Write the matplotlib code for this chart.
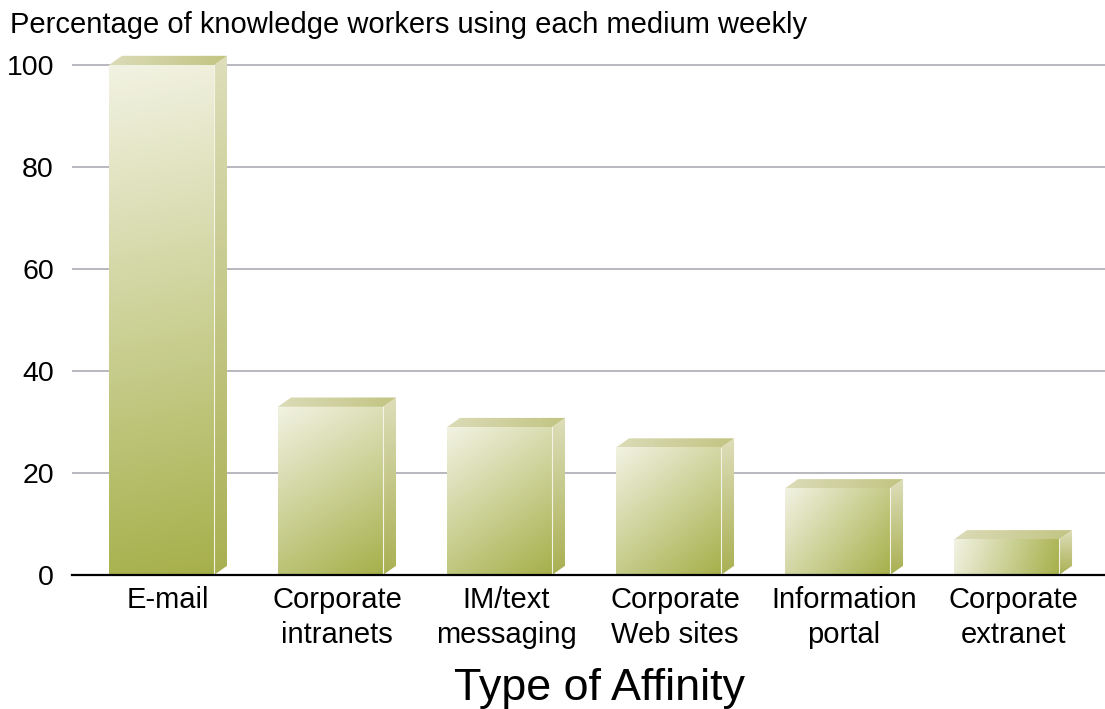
import matplotlib
matplotlib.use("Agg")
import matplotlib.pyplot as plt
import numpy as np
from matplotlib.patches import Polygon

plt.rcParams["font.family"] = ["Liberation Sans", "DejaVu Sans"]

# ── Datos ────────────────────────────────────────────────────────────────────
categories = [
    "E-mail",
    "Corporate\nintranets",
    "IM/text\nmessaging",
    "Corporate\nWeb sites",
    "Information\nportal",
    "Corporate\nextranet",
]
values = [100, 33, 29, 25, 17, 7]
y_ticks = [0, 20, 40, 60, 80, 100]

title = "Percentage of knowledge workers using each medium weekly"
x_label = "Type of Affinity"

# ── Estilo ───────────────────────────────────────────────────────────────────
FRONT_LIGHT = np.array([0.95, 0.95, 0.89])
FRONT_DARK = np.array([0.65, 0.69, 0.29])
SIDE_LIGHT = np.array([0.87, 0.87, 0.73])
SIDE_DARK = np.array([0.66, 0.69, 0.32])
TOP_LEFT = np.array([0.86, 0.86, 0.72])
TOP_RIGHT = np.array([0.76, 0.77, 0.51])

BAR_W = 0.621   # ancho cara frontal (unidades de categoría)
DEPTH_X = 0.077
DEPTH_Y = 1.8
PX_X = 169.0    # píxeles por categoría
PX_Y = 5.1      # píxeles por unidad de valor


def _gradient(c0, c1, t):
    t = np.clip(t, 0, 1)[..., None]
    return c0 * (1 - t) + c1 * t


def _draw_bar(ax, xc, h):
    xl = xc - (BAR_W + DEPTH_X) / 2
    xr = xl + BAR_W
    n = 200
    u, v = np.meshgrid(np.linspace(0, 1, n), np.linspace(0, 1, n))

    # cara frontal: degradado a lo largo de la diagonal (en píxeles)
    w_px = BAR_W * PX_X
    h_px = h * PX_Y
    t = (u * w_px ** 2 + v * h_px ** 2) / (w_px ** 2 + h_px ** 2)
    front = _gradient(FRONT_LIGHT, FRONT_DARK, t)
    ax.imshow(front, extent=(xl, xr, 0, h), origin="upper",
              aspect="auto", interpolation="bilinear", zorder=3)

    # cara lateral
    side = _gradient(SIDE_LIGHT, SIDE_DARK, v)
    im = ax.imshow(side, extent=(xr, xr + DEPTH_X, 0, h + DEPTH_Y),
                   origin="upper", aspect="auto", interpolation="bilinear", zorder=3)
    poly = Polygon([(xr, 0), (xr + DEPTH_X, DEPTH_Y), (xr + DEPTH_X, h + DEPTH_Y), (xr, h)],
                   closed=True, transform=ax.transData, facecolor="none", edgecolor="none")
    ax.add_patch(poly)
    im.set_clip_path(poly)

    # cara superior
    top = _gradient(TOP_LEFT, TOP_RIGHT, u)
    im = ax.imshow(top, extent=(xl, xr + DEPTH_X, h, h + DEPTH_Y),
                   origin="upper", aspect="auto", interpolation="bilinear", zorder=3)
    poly = Polygon([(xl, h), (xl + DEPTH_X, h + DEPTH_Y), (xr + DEPTH_X, h + DEPTH_Y), (xr, h)],
                   closed=True, transform=ax.transData, facecolor="none", edgecolor="none")
    ax.add_patch(poly)
    im.set_clip_path(poly)

    # arista clara entre frente y lateral
    ax.plot([xr, xr], [0, h], color="#F4F4E6", lw=0.8, zorder=4)


fig = plt.figure(figsize=(11.05, 7.09), dpi=100, facecolor="white")
ax = fig.add_axes([72 / 1105, (709 - 575) / 709, (1105 - 72) / 1105, (575 - 54.8) / 709])

x = np.arange(len(categories))
for xi, val in zip(x, values):
    _draw_bar(ax, xi, val)

ax.set_xlim(-0.568, 5.544)
ax.set_ylim(0, 102)

ax.set_yticks(y_ticks)
ax.set_yticklabels([str(t) for t in y_ticks], fontsize=20.5)
ax.set_xticks(x)
ax.set_xticklabels(categories, fontsize=21, linespacing=1.3)
ax.tick_params(axis="both", length=0)
ax.tick_params(axis="y", pad=13)
ax.tick_params(axis="x", pad=8)

for yv in y_ticks[1:]:
    ax.axhline(yv, color="#A4A4AC", lw=1.1, zorder=1)

for name, spine in ax.spines.items():
    spine.set_visible(name == "bottom")
ax.spines["bottom"].set_color("black")
ax.spines["bottom"].set_linewidth(1.6)
ax.spines["bottom"].set_zorder(5)

fig.text(10 / 1105, 1 - 33 / 709, title, fontsize=21, va="baseline", ha="left")
fig.text(600 / 1105, 1 - 700 / 709, x_label, fontsize=32.3, va="baseline", ha="center")

fig.savefig("out.png", dpi=100, facecolor="white")
